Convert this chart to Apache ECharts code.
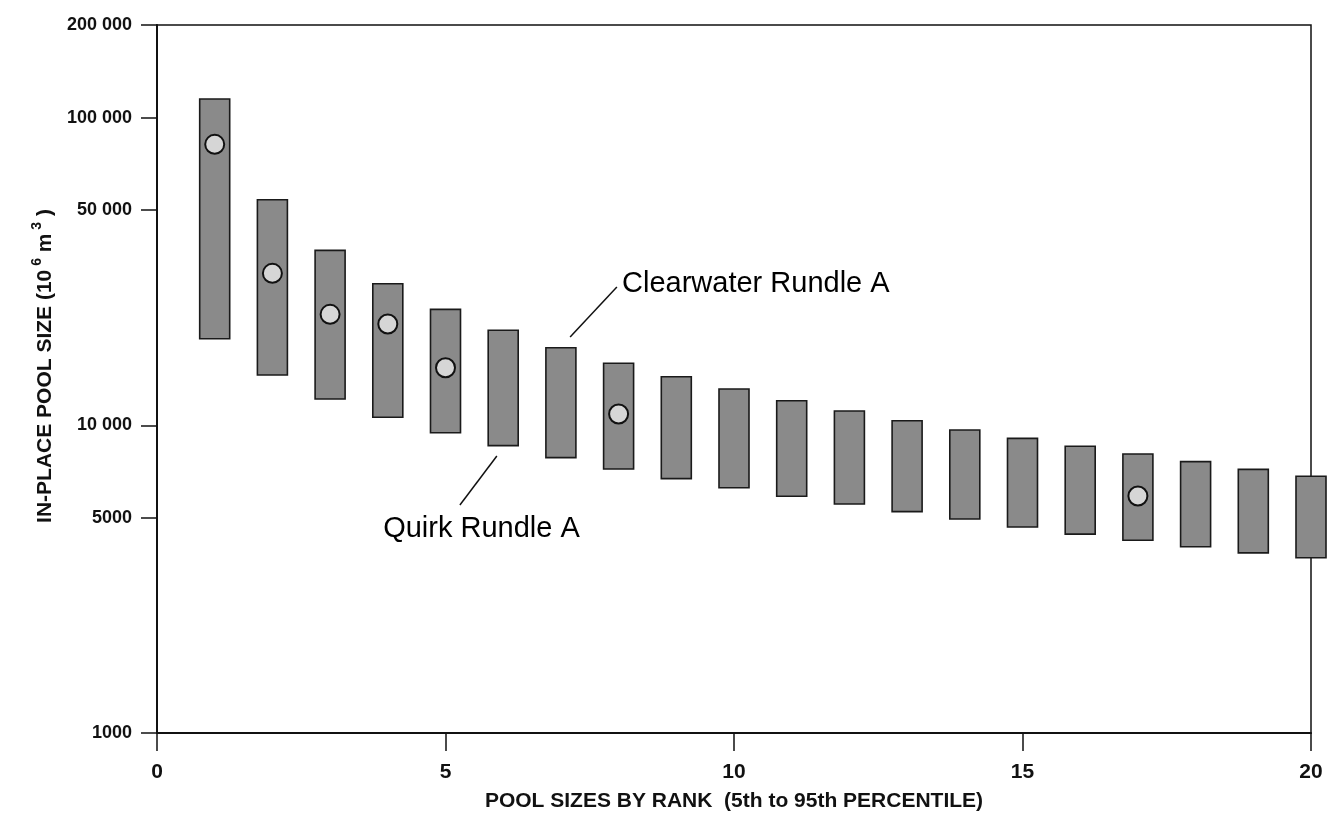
<!DOCTYPE html>
<html>
<head>
<meta charset="utf-8">
<script src="https://cdn.jsdelivr.net/npm/echarts@6/dist/echarts.min.js"></script>
<style>
html,body{margin:0;padding:0;background:#fff;}
#chart{width:1337px;height:823px;}
</style>
</head>
<body>
<div id="chart"></div>
<script>
// Pool rank (x)
const ranks = [1,2,3,4,5,6,7,8,9,10,11,12,13,14,15,16,17,18,19,20];
// 95th percentile (top of bar), 10^6 m^3
const p95 = [114900,54100,37040,28850,23820,20360,17870,15910,14390,13120,12020,11130,10350,9650,9070,8550,8070,7620,7190,6830];
// 5th percentile (bottom of bar), 10^6 m^3
const p5 = [19110,14570,12170,10620,9460,8590,7850,7210,6710,6270,5880,5550,5240,4960,4670,4430,4230,4030,3850,3710];
// Discovered pools (dots)
const discoveredRank = [1,2,3,4,5,8,17];
const discoveredSize = [81900,31190,22950,21340,15390,10880,5890];
// Y tick values and labels
const yTickValues = [1000,5000,10000,50000,100000,200000];
const yTickLabels = ['1000','5000','10 000','50 000','100 000','200 000'];
// Annotations (data coordinates)
const annotationText = ['Clearwater Rundle A','Quirk Rundle A'];
const annotationAnchor = [[8.06,28770],[3.92,4600]];
const leaderStart = [[7.16,19370],[5.89,7946]];
const leaderEnd = [[7.97,28140],[5.25,5508]];

const barData = ranks.map((r,i)=>[r,p5[i],p95[i]]);
const dotData = discoveredRank.map((r,i)=>[r,discoveredSize[i]]);
const annData = annotationText.map((t,i)=>({value:[annotationAnchor[i][0],annotationAnchor[i][1]], name:t}));
const leaderData = leaderStart.map((s,i)=>[{coord:s},{coord:leaderEnd[i]}]);

const chart = echarts.init(document.getElementById('chart'), null, {renderer:'canvas'});
const sans = '"Liberation Sans", Arial, Helvetica, sans-serif';

chart.setOption({
  animation:false,
  backgroundColor:'#ffffff',
  grid:{left:157,right:26,top:25,bottom:90,show:true,borderColor:'#111',borderWidth:1.5},
  xAxis:{
    type:'value',min:0,max:20,interval:5,
    name:'POOL SIZES BY RANK  (5th to 95th PERCENTILE)',
    nameLocation:'middle',nameGap:58,
    nameTextStyle:{fontFamily:sans,fontWeight:'bold',fontSize:21,color:'#111'},
    axisLine:{show:true,onZero:false,lineStyle:{color:'#111',width:2}},
    axisTick:{show:true,length:18,lineStyle:{color:'#111',width:1.5}},
    axisLabel:{margin:29,fontFamily:sans,fontWeight:'bold',fontSize:21,color:'#111'},
    splitLine:{show:false}
  },
  yAxis:{
    type:'log',logBase:10,min:1000,max:200000,
    name:'{n|IN-PLACE POOL SIZE (10}{s| 6}{n| m}{s| 3}{n| )}',
    nameLocation:'middle',nameGap:64,nameRotate:90,
    nameTextStyle:{
      padding:[0,0,0,26],
      rich:{
        n:{fontFamily:sans,fontWeight:'bold',fontSize:21,color:'#111',lineHeight:30},
        s:{fontFamily:sans,fontWeight:'bold',fontSize:14,color:'#111',verticalAlign:'top',lineHeight:12}
      }
    },
    axisLine:{show:true,lineStyle:{color:'#111',width:2}},
    axisTick:{show:true,length:16,customValues:yTickValues,lineStyle:{color:'#111',width:1.5}},
    axisLabel:{
      margin:25,fontFamily:sans,fontWeight:'bold',fontSize:18,color:'#111',
      customValues:yTickValues,
      formatter:function(v){const i=yTickValues.indexOf(v);return i>=0?yTickLabels[i]:'';}
    },
    minorTick:{show:false},
    splitLine:{show:false}
  },
  series:[
    {
      type:'custom',
      data:barData,
      encode:{x:0,y:[1,2]},
      z:2,
      renderItem:function(params,api){
        const x=api.value(0),lo=api.value(1),hi=api.value(2);
        const pTop=api.coord([x,hi]);
        const pBot=api.coord([x,lo]);
        const half=(api.coord([x+0.26,hi])[0]-api.coord([x-0.26,hi])[0])/2;
        return {
          type:'rect',
          shape:{x:pTop[0]-half,y:pTop[1],width:half*2,height:pBot[1]-pTop[1]},
          style:{fill:'#8a8a8a',stroke:'#1a1a1a',lineWidth:1.6}
        };
      }
    },
    {
      type:'scatter',
      data:dotData,
      z:5,
      symbol:'circle',
      symbolSize:19,
      itemStyle:{color:'#d6d6d6',borderColor:'#111',borderWidth:2,opacity:1}
    },
    {
      type:'scatter',
      data:annData,
      z:6,
      symbolSize:0,
      silent:true,
      itemStyle:{opacity:1},
      label:{
        show:true,position:'right',distance:0,
        formatter:function(p){return p.name;},
        fontFamily:sans,fontSize:29,color:'#000',opacity:1,align:'left',verticalAlign:'middle'
      },
      markLine:{
        silent:true,symbol:['none','none'],
        label:{show:false},
        lineStyle:{color:'#111',width:1.5,type:'solid',opacity:1},
        data:leaderData
      }
    }
  ]
});
</script>
</body>
</html>
